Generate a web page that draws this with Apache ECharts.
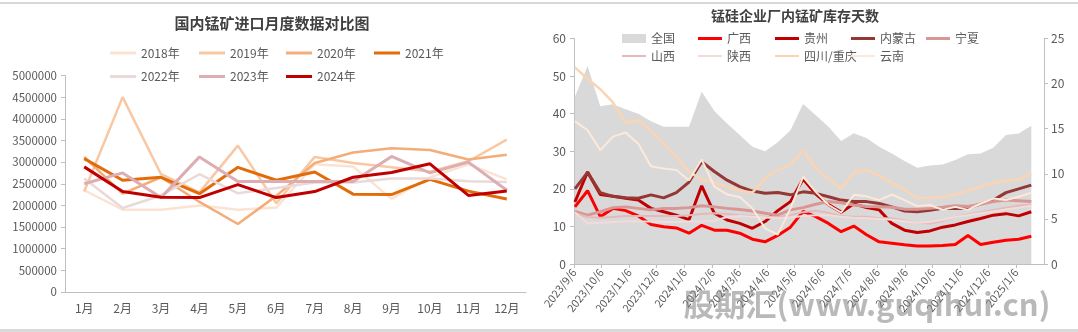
<!DOCTYPE html>
<html><head><meta charset="utf-8">
<script src="https://cdn.jsdelivr.net/npm/echarts@6/dist/echarts.min.js"></script>
<style>html,body{margin:0;padding:0;background:#fff}#c{width:1078px;height:332px}</style>
</head><body><div id="c"></div>
<script>
// ---------- Left panel data: monthly manganese ore imports (tonnes) ----------
const months = ['1月','2月','3月','4月','5月','6月','7月','8月','9月','10月','11月','12月'];
const yearNames = ['2018年','2019年','2020年','2021年','2022年','2023年','2024年'];
const imp2018 = [2350000,1900000,1900000,2000000,1900000,1950000,2950000,2900000,2150000,2650000,2950000,2600000];
const imp2019 = [2320000,4500000,2720000,2300000,3380000,2050000,3120000,2980000,2880000,2780000,3020000,3520000];
const imp2020 = [3120000,2270000,2650000,2080000,1570000,2220000,2980000,3220000,3320000,3280000,3060000,3170000];
const imp2021 = [3080000,2580000,2650000,2270000,2880000,2580000,2770000,2260000,2250000,2600000,2330000,2150000];
const imp2022 = [2620000,1940000,2230000,2720000,2280000,2400000,2530000,2530000,2620000,2620000,2560000,2540000];
const imp2023 = [2500000,2750000,2180000,3120000,2550000,2550000,2550000,2550000,3130000,2750000,3000000,2350000];
const imp2024 = [2890000,2320000,2190000,2180000,2480000,2180000,2320000,2650000,2760000,2960000,2230000,2330000];

// ---------- Right panel data: inventory days ----------
const stockDates = ['2023/9/7','2023/9/21','2023/10/5','2023/10/19','2023/11/2','2023/11/16','2023/11/30','2023/12/14','2023/12/28',
 '2024/1/11','2024/1/25','2024/2/8','2024/2/22','2024/3/7','2024/3/21','2024/4/4','2024/4/18','2024/5/2','2024/5/16','2024/5/30',
 '2024/6/13','2024/6/27','2024/7/11','2024/7/25','2024/8/8','2024/8/22','2024/9/5','2024/9/19','2024/10/3','2024/10/17','2024/10/31',
 '2024/11/14','2024/11/28','2024/12/12','2024/12/26','2025/1/9','2025/1/23'];
const stockTicks = ['2023/9/6','2023/10/6','2023/11/6','2023/12/6','2024/1/6','2024/2/6','2024/3/6','2024/4/6','2024/5/6',
 '2024/6/6','2024/7/6','2024/8/6','2024/9/6','2024/10/6','2024/11/6','2024/12/6','2025/1/6'];
const regionNames = ['全国','广西','贵州','内蒙古','宁夏','山西','陕西','四川/重庆','云南'];
const national  = [44.5,52.7,42,42.5,41.2,40,38,36.5,36.5,36.5,45.8,40.7,37.4,34.3,31.2,30,32.4,35.6,42.6,39.6,36.5,32.7,34.8,33.5,31.2,29.4,27.4,25.6,26.2,26.5,27.7,29.2,29.4,30.9,34.3,34.7,36.8];
const guangxi   = [15.2,19.5,12.6,14.8,14.2,12.8,10.5,9.9,9.6,8.2,10.3,9.0,9.0,8.2,6.6,5.9,7.6,9.8,14,12.6,10.8,8.6,10.1,7.8,5.9,5.5,5.1,4.8,4.8,4.9,5.2,7.6,5.2,5.8,6.3,6.6,7.4];
const guizhou   = [16.5,24.5,18.5,18,17.5,17,14.8,13.9,13,11.8,20.8,13.5,11.7,10.8,9.5,11.3,14.2,16.6,22.6,18.6,15.8,13.8,16,15,14.4,10.8,9,8.4,8.8,9.8,10.4,11.3,12.1,13,13.4,12.8,13.9];
const neimenggu = [20,24.4,19,18,17.6,17.5,18.4,17.6,19,21.8,27.2,24.6,22.3,20.6,19.4,18.8,19,18.4,19.2,18.8,17.9,17,16.6,16.6,16.1,15.2,14.1,13.9,14.3,14.8,14.8,14.8,16,17,19,20,21];
const ningxia   = [14,13,13.9,15,15.2,14.8,14.4,14.8,14.8,15,15.5,15.2,14.8,14.5,14.1,13.5,13,14.4,15,15.9,16.6,16.3,15.7,15.3,15.2,15.1,14.6,14.6,14.8,15.1,15.5,15.3,15.9,16.6,17,16.8,16.6];
const shanxi    = [13.5,12.5,12.3,12.5,12.8,12.8,12.8,12.8,12.8,13,13.3,13.5,13.3,13,12.8,12.6,12.5,13,13.8,14.2,13.6,12.8,12.6,12.6,12.2,12.2,11.6,11,10.8,11.5,12.5,13.2,13.8,14.4,15,15.5,15.8];
const shaanxi   = [13.8,10.8,11,11.2,11.3,11.3,11.3,11.2,11.2,11.3,11.3,11.5,12.5,12.8,12.6,12.4,12.2,12.4,12.8,13,13,12.6,12.3,12.2,12,11.8,11.4,11,11.2,11.8,12.5,13,13.5,14,14.5,15,15.5];
const sichuan   = [52.3,49.3,46.5,43,37.5,38.3,35.5,32,28.5,24.5,22.5,21.8,20.5,19.5,19,22.8,25,26.5,30.2,25.5,22.5,20,24.2,25,23.5,21.5,19.8,17.5,17.6,17.8,18.5,19.5,20.6,21.5,22.2,22.5,24];
const yunnan    = [38,35.6,30.3,33.9,35,32,26,25.4,25,22.3,27.8,20.6,18.5,17.8,14.8,9.5,7.8,14.8,23.2,19.2,15.7,13.7,18.4,18,17,18.5,17,15.4,15.7,14.4,15.2,14.4,16.1,17.4,17,17.9,19];
const leftTitle = '国内锰矿进口月度数据对比图';
const rightTitle = '锰硅企业厂内锰矿库存天数';
const watermark = '股期汇(www.guqihui.cn)';

// ---------- build ----------
const FONT = '"Noto Sans CJK SC","Noto Sans",sans-serif';
const LBL = '#595959';
const AX = '#bfbfbf';
const ts = s => +new Date(s);

const yearSeries = [imp2018,imp2019,imp2020,imp2021,imp2022,imp2023,imp2024];
const yearColors = ['#fbe3d3','#f9c8a2','#f4ad78','#e36c0a','#e9d9d9','#dcadb3','#c00000'];
const yearWidths = [2.5,2.5,2.5,3,2.5,3,3];

const regionSeries = [national,guangxi,guizhou,neimenggu,ningxia,shanxi,shaanxi,sichuan,yunnan];
const regionColors = ['#d9d9d9','#ff0000','#c00000','#953735','#da9694','#e6b9b8','#f2dcdb','#fbd4b4','#fde9d9'];
const regionWidths = [0,3,3,3,3,2,2,2.5,2];

const series = [];
yearSeries.forEach((arr,i)=>{
  series.push({name: yearNames[i], type:'line', xAxisIndex:0, yAxisIndex:0, data: arr, symbol:'none',
    color: yearColors[i], lineStyle:{width: yearWidths[i], color: yearColors[i]}, z: 2+i});
});
regionSeries.forEach((arr,i)=>{
  const s = {name: regionNames[i], type:'line', xAxisIndex:1, yAxisIndex:1, symbol:'none',
    data: stockDates.map((d,j)=>[ts(d), arr[j]]), color: regionColors[i],
    lineStyle:{width: regionWidths[i], color: regionColors[i]}, z: 2+i};
  if (i===0) { s.areaStyle = {color: regionColors[0], opacity:1}; s.z = 1; }
  series.push(s);
});

const legends = [];
const leftCols = [110,199,286,374];
yearNames.forEach((n,i)=>{
  const row = i<4?0:1, col = i<4?i:i-4;
  legends.push({data:[n], left: leftCols[col], top: (row===0?55:78.5)-8, padding:0,
    icon:'rect', itemWidth:26, itemHeight:3, itemGap:5,
    textStyle:{fontFamily:FONT, fontSize:12, color:LBL}});
});
const rightCols = [622,698,775,851,926];
regionNames.forEach((n,i)=>{
  const row = i<5?0:1, col = i<5?i:i-5;
  legends.push({data:[n], left: rightCols[col], top: (row===0?40.5:58)-8, padding:0,
    icon:'rect', itemWidth:24, itemHeight: i===0?9:(regionWidths[i]>=3?3:2), itemGap:5,
    textStyle:{fontFamily:FONT, fontSize:12, color:LBL}});
});

const tickTs = stockTicks.map(ts);
const tickMap = {}; stockTicks.forEach((s,i)=>{ tickMap[tickTs[i]] = s; });

const option = {
  animation:false,
  backgroundColor:'#fff',
  textStyle:{fontFamily:FONT},
  legend: legends,
  grid:[
    {left:65, top:75.5, width:461, height:216.5},
    {left:574, top:38.5, width:470, height:225.5}
  ],
  xAxis:[
    {type:'category', gridIndex:0, data: months, boundaryGap:true,
     axisLine:{lineStyle:{color:AX}}, axisTick:{length:5, lineStyle:{color:AX}},
     axisLabel:{color:LBL, fontSize:12, margin:10, fontFamily:FONT}},
    {type:'value', gridIndex:1, min: ts('2023/9/6'), max: ts('2025/2/6'), scale:true,
     axisLine:{show:true, onZero:false, lineStyle:{color:AX}},
     axisTick:{show:true, length:4, customValues: tickTs, lineStyle:{color:AX}},
     axisLabel:{customValues: tickTs, rotate:52, color:LBL, fontSize:11, margin:6, fontFamily:FONT,
       hideOverlap:false, formatter: v => tickMap[v] || ''},
     splitLine:{show:false}}
  ],
  yAxis:[
    {type:'value', gridIndex:0, min:0, max:5000000, interval:500000,
     axisLine:{show:true, lineStyle:{color:AX}}, axisTick:{show:true, length:4, lineStyle:{color:AX}},
     axisLabel:{color:LBL, fontSize:11.5, margin:8, formatter: v => String(v)}, splitLine:{show:false}},
    {type:'value', gridIndex:1, min:0, max:60, interval:10, position:'left',
     axisLine:{show:true, lineStyle:{color:AX}}, axisTick:{show:true, length:4, lineStyle:{color:AX}},
     axisLabel:{color:LBL, fontSize:12, margin:8}, splitLine:{show:false}},
    {type:'value', gridIndex:1, min:0, max:25, interval:5, position:'right',
     axisLine:{show:true, lineStyle:{color:AX}}, axisTick:{show:true, length:4, lineStyle:{color:AX}},
     axisLabel:{color:LBL, fontSize:12, margin:7}, splitLine:{show:false}}
  ],
  series: series,
  graphic:[
    {type:'rect', shape:{x:0,y:2,width:1078,height:2}, style:{fill:'#d9d9d9'}, silent:true},
    {type:'rect', shape:{x:0,y:329,width:1078,height:3}, style:{fill:'#d9d9d9'}, silent:true},
    {type:'text', x:272, y:23, style:{text:leftTitle, fill:'#404040', font:'bold 15px '+FONT, textAlign:'center', textVerticalAlign:'middle'}},
    {type:'text', x:795, y:15.5, style:{text:rightTitle, fill:'#404040', font:'bold 14px '+FONT, textAlign:'center', textVerticalAlign:'middle'}},
    {type:'text', x:867, y:304, z:100, style:{text:watermark, fill:'rgba(128,128,128,0.55)', font:'bold 31px '+FONT, textAlign:'center', textVerticalAlign:'middle'}}
  ]
};
const chart = echarts.init(document.getElementById('c'), null, {renderer:'canvas'});
chart.setOption(option);
</script></body></html>
